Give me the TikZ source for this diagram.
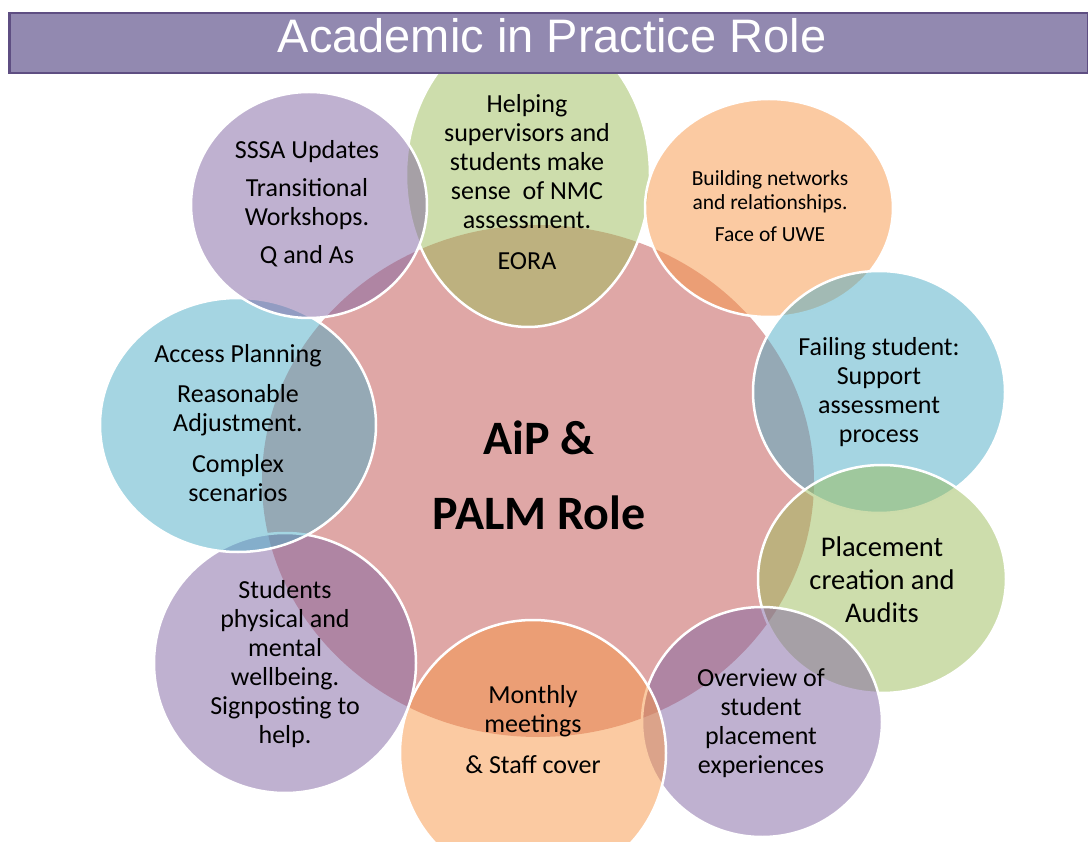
\documentclass[tikz,border=0pt]{standalone}
\usepackage{fontspec}
\setmainfont{Carlito}
\newfontfamily\titlefont{Liberation Sans}
\usetikzlibrary{shapes.geometric}
\definecolor{opurple}{RGB}{128,100,162}
\definecolor{oblue}{RGB}{75,172,198}
\definecolor{ogreen}{RGB}{155,187,89}
\definecolor{oorange}{RGB}{247,150,70}
\definecolor{ored}{RGB}{192,80,77}
\definecolor{titlefill}{RGB}{146,137,176}
\definecolor{titleborder}{RGB}{94,78,130}
\begin{document}
\begin{tikzpicture}[x=1pt,y=-1pt,
  bub/.style={ellipse, inner sep=0pt, outer sep=0pt, fill opacity=0.5, draw=white, line width=2.5pt},
  txt/.style={align=center, inner sep=0pt, text=black, font=\fontsize{26}{29}\selectfont}]
\useasboundingbox (0,0) rectangle (1088,842);

% central circle
\node[ellipse, inner sep=0pt, fill=ored, fill opacity=0.5, minimum width=552pt, minimum height=512pt] (core) at (538,481) {};

% outer circles, clockwise from the top
\node[bub, fill=ogreen,  minimum width=244pt, minimum height=304pt] (c1) at (528,175) {};
\node[bub, fill=oorange, minimum width=248pt, minimum height=218pt] (c2) at (769,208) {};
\node[bub, fill=oblue,   minimum width=252pt, minimum height=242pt] (c3) at (879,392) {};
\node[bub, fill=ogreen,  minimum width=248pt, minimum height=228pt] (c4) at (882,579) {};
\node[bub, fill=opurple, minimum width=240pt, minimum height=230pt] (c5) at (762,722) {};
\node[bub, fill=oorange, minimum width=266pt, minimum height=266pt] (c6) at (533,753) {};
\node[bub, fill=opurple, minimum width=262pt, minimum height=260pt] (c7) at (285,663) {};
\node[bub, fill=oblue,   minimum width=276pt, minimum height=254pt] (c8) at (238,425) {};
\node[bub, fill=opurple, minimum width=236pt, minimum height=226pt] (c9) at (309,205) {};

% title bar
\node[draw=titleborder, line width=2.5pt, fill=titlefill, minimum width=1079pt, minimum height=60pt, inner sep=0pt, anchor=north west] (bar) at (8,12) {};
\node[anchor=base, text=white, inner sep=0pt, font=\titlefont\fontsize{47}{47}\selectfont] (title) at (552,53) {Academic in Practice Role};

% texts
\node[txt, font=\bfseries\fontsize{48}{75}\selectfont] (tcore) at (539,475) {AiP \&\\PALM Role};
\node[txt] (t1) at (527,182) {Helping\\supervisors and\\students make\\sense\ \ of NMC\\assessment.\\[12pt]EORA};
\node[txt, font=\fontsize{21.5}{24}\selectfont] (t2) at (770,206) {Building networks\\and relationships.\\[8pt]Face of UWE};
\node[txt] (t3) at (879,392) {Failing student:\\Support\\assessment\\process};
\node[txt, font=\fontsize{28.5}{33}\selectfont] (t4) at (882,580) {Placement\\creation and\\Audits};
\node[txt] (t5) at (761,723) {Overview of\\student\\placement\\experiences};
\node[txt] (t6) at (533,730) {Monthly\\meetings\\[12pt]\& Staff cover};
\node[txt] (t7) at (285,664) {Students\\physical and\\mental\\wellbeing.\\Signposting to\\help.};
\node[txt] (t8) at (238,423) {Access Planning\\[11pt]Reasonable\\Adjustment.\\[12pt]Complex\\scenarios};
\node[txt] (t9) at (307,204) {SSSA Updates\\[9pt]Transitional\\Workshops.\\[9pt]Q and As};
\end{tikzpicture}
\end{document}
